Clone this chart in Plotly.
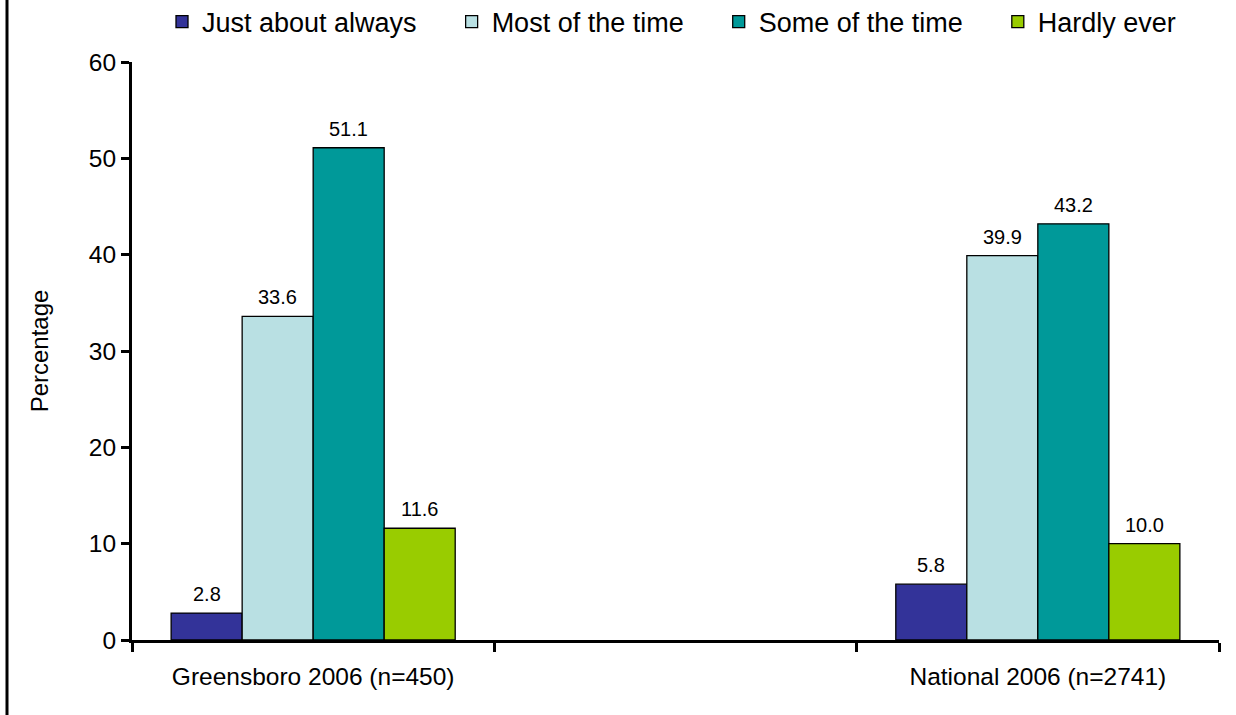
import plotly.graph_objects as go

# Survey responses by group (percent)
groups = ["Greensboro 2006 (n=450)", "National 2006 (n=2741)"]
series = ["Just about always", "Most of the time", "Some of the time", "Hardly ever"]
just_about_always = [2.8, 5.8]
most_of_the_time = [33.6, 39.9]
some_of_the_time = [51.1, 43.2]
hardly_ever = [11.6, 10.0]
y_ticks = [0, 10, 20, 30, 40, 50, 60]

values = [just_about_always, most_of_the_time, some_of_the_time, hardly_ever]
colors = ["#333399", "#B9E0E3", "#009999", "#99CC00"]

# group centres sit in slots 0.5 and 2.5 of a 3-slot axis
positions = [0.5, 2.5]
bar_w = 0.196
FONT = "Arial, Liberation Sans, sans-serif"
PAD = "\u00a0" * 4  # extra room between legend entries

fig = go.Figure()
for i, (name, vals, col) in enumerate(zip(series, values, colors)):
    off = -2 * bar_w + i * bar_w
    fig.add_trace(go.Bar(
        x=positions, y=vals, name=name + PAD,
        width=bar_w, offset=off,
        marker=dict(color=col, line=dict(color="black", width=1.3)),
    ))
    # value labels above each bar
    for p, v in zip(positions, vals):
        fig.add_annotation(x=p + off + bar_w / 2, y=v, text=f"{v:.1f}",
                           showarrow=False, yanchor="bottom", yshift=6,
                           font=dict(size=20, color="black", family=FONT))

fig.update_layout(
    width=1236, height=715,
    margin=dict(l=132, r=17, t=62, b=75, autoexpand=False),
    paper_bgcolor="white", plot_bgcolor="white",
    barmode="overlay",
    font=dict(family=FONT, size=24, color="black"),
    showlegend=True,
    legend=dict(orientation="h", xref="container", yref="container",
                x=162 / 1236, xanchor="left", y=1 - 22 / 715, yanchor="middle",
                font=dict(size=27), itemwidth=30, traceorder="normal"),
    xaxis=dict(range=[0, 3], tickvals=positions, ticktext=groups, ticks="",
               showline=True, linecolor="black", linewidth=3, showgrid=False,
               zeroline=False, ticklabelstandoff=13, tickfont=dict(size=24.5),
               automargin=False,
               minor=dict(tickvals=[0, 1, 2, 3], ticks="outside", ticklen=9,
                          tickwidth=3, tickcolor="black", showgrid=False)),
    yaxis=dict(range=[0, 60], tickvals=y_ticks, ticks="outside", ticklen=8, tickwidth=3,
               tickcolor="black", showline=True, linecolor="black", linewidth=3,
               showgrid=False, zeroline=False, tickfont=dict(size=24.5),
               automargin=False,
               title=dict(text="Percentage", standoff=34, font=dict(size=24))),
)

# frame edge on the left of the figure
fig.add_shape(type="line", xref="paper", yref="paper",
              x0=-125 / 1087, x1=-125 / 1087, y0=-75 / 578, y1=1 + 62 / 578,
              line=dict(color="black", width=3))

fig.write_html("out.html")
